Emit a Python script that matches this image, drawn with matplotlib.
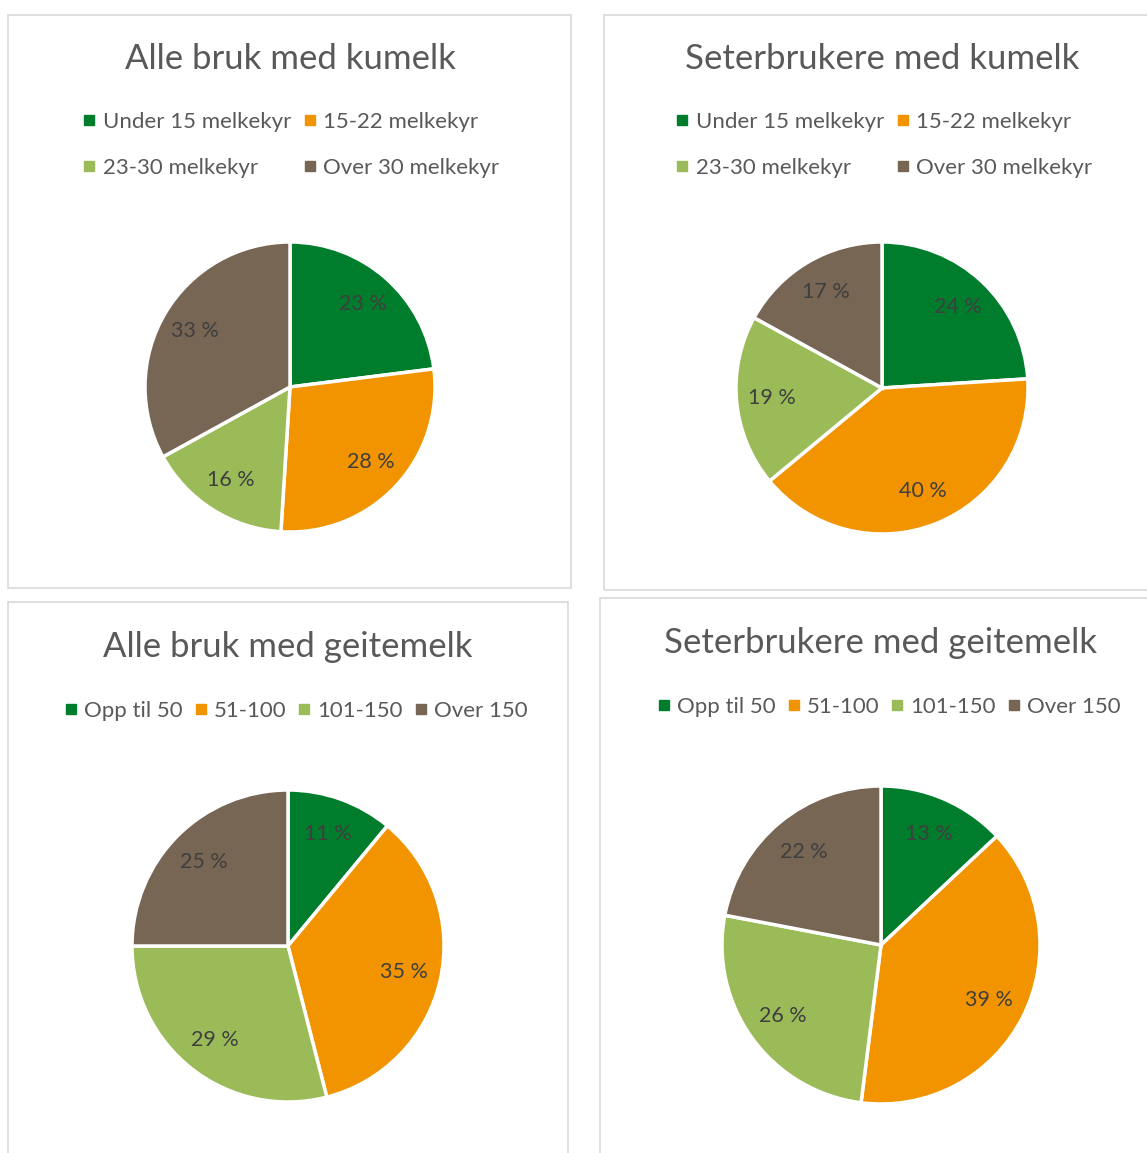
import matplotlib
matplotlib.use("Agg")
import matplotlib.pyplot as plt
from matplotlib.lines import Line2D
from matplotlib.patches import Rectangle

plt.rcParams["font.family"] = ["Lato", "DejaVu Sans"]

W, H = 1147, 1153

colors = ["#007D2C", "#F29400", "#9BBB59", "#786654"]

cow_labels = ["Under 15 melkekyr", "15-22 melkekyr", "23-30 melkekyr", "Over 30 melkekyr"]
goat_labels = ["Opp til 50", "51-100", "101-150", "Over 150"]

titles = [
    "Alle bruk med kumelk",
    "Seterbrukere med kumelk",
    "Alle bruk med geitemelk",
    "Seterbrukere med geitemelk",
]
alle_ku = [23, 28, 16, 33]
seter_ku = [24, 40, 19, 17]
alle_geit = [11, 35, 29, 25]
seter_geit = [13, 39, 26, 22]

# panel layout in pixels: box, pie centre, radius, title y, legend centre
panels = [
    dict(box=(8, 15, 571, 588), c=(290, 387), r=145, ty=59, lc=(291, 145), ncol=2),
    dict(box=(604, 15, 1160, 590), c=(882, 388), r=146, ty=59, lc=(884, 145), ncol=2),
    dict(box=(8, 602, 568, 1170), c=(288, 946), r=156, ty=647, lc=(296, 711), ncol=4),
    dict(box=(600, 598, 1160, 1170), c=(881, 945), r=159, ty=643, lc=(889, 707), ncol=4),
]
data = [alle_ku, seter_ku, alle_geit, seter_geit]
legend_labels = [cow_labels, cow_labels, goat_labels, goat_labels]

fig = plt.figure(figsize=(W / 100, H / 100), dpi=100)
fig.patch.set_facecolor("white")


def fx(x):
    return x / W


def fy(y):
    return 1 - y / H


for p, vals, title, labs in zip(panels, data, titles, legend_labels):
    x0, y0, x1, y1 = p["box"]
    fig.add_artist(Rectangle((fx(x0), fy(y1)), fx(x1 - x0), (y1 - y0) / H,
                             transform=fig.transFigure, fill=False,
                             edgecolor="#D9D9D9", linewidth=1.2))
    cx, cy = p["c"]
    r = p["r"]
    ax = fig.add_axes([fx(cx - r), fy(cy + r), 2 * r / W, 2 * r / H])
    wedges, texts = ax.pie(
        vals,
        colors=colors,
        startangle=90,
        counterclock=False,
        labels=[f"{v} %" for v in vals],
        labeldistance=0.76,
        wedgeprops=dict(edgecolor="white", linewidth=2.5),
        textprops=dict(color="#3F3F3F", fontsize=15.5),
    )
    for t in texts:
        t.set_ha("center")
        t.set_va("center")
    ax.set_xlim(-1, 1)
    ax.set_ylim(-1, 1)
    ax.set_aspect("equal")
    ax.axis("off")

    fig.text(fx(cx), fy(p["ty"]), title, ha="center", va="center",
             fontsize=25, color="#595959")

    handles = [Line2D([], [], marker="s", linestyle="none", markersize=6.5,
                      markerfacecolor=c, markeredgecolor=c) for c in colors]
    order = [0, 2, 1, 3] if p["ncol"] == 2 else [0, 1, 2, 3]
    lx, ly = p["lc"]
    leg = fig.legend([handles[i] for i in order], [labs[i] for i in order],
                     loc="center", bbox_to_anchor=(fx(lx), fy(ly)),
                     ncol=p["ncol"], frameon=False, fontsize=16,
                     handlelength=0.6, handletextpad=0.3,
                     columnspacing=0.55 if p["ncol"] == 2 else 0.5,
                     labelspacing=1.17, borderaxespad=0, borderpad=0)
    for t in leg.get_texts():
        t.set_color("#595959")

fig.savefig("out.png", dpi=100)
